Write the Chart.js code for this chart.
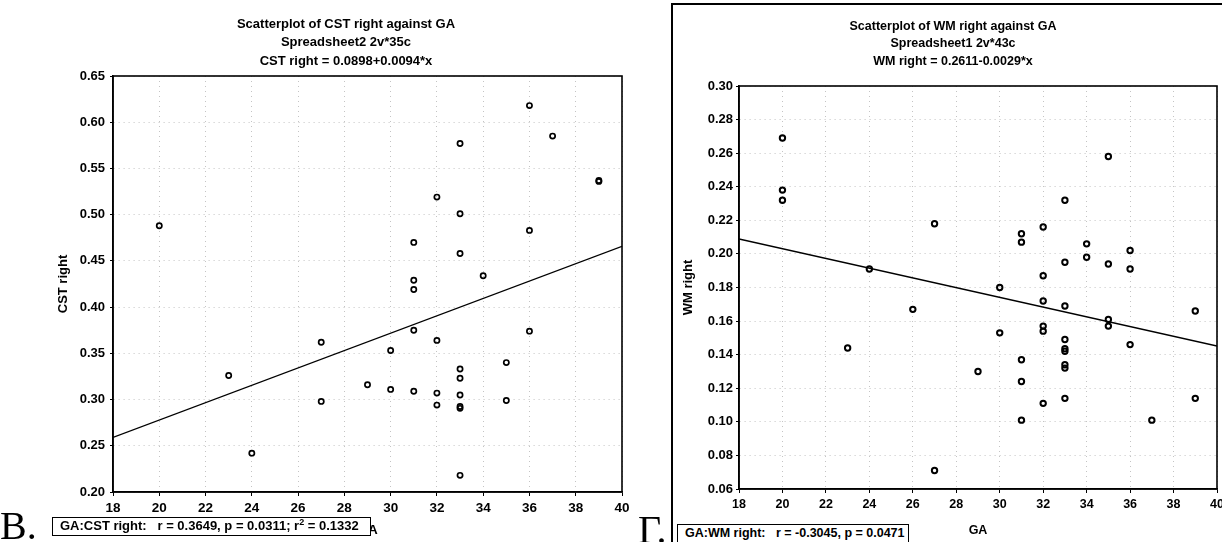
<!DOCTYPE html>
<html><head><meta charset="utf-8">
<script src="https://cdn.jsdelivr.net/npm/chart.js@4.4.1/dist/chart.umd.min.js"></script>
<style>
html,body{margin:0;padding:0;width:1222px;height:542px;overflow:hidden;background:#fff;font-family:"Liberation Sans",Arial,sans-serif;color:#000;}
.abs{position:absolute;}
.t{position:absolute;transform:translate(-50%,-50%);white-space:nowrap;font-weight:bold;line-height:1;}
.box{position:absolute;box-sizing:border-box;border:1.5px solid #000;background:#fff;font-weight:bold;white-space:nowrap;padding-left:7px;}
.big{position:absolute;font-family:"Liberation Serif","Times New Roman",serif;font-size:40px;line-height:1;white-space:nowrap;}
</style></head><body>

<div class="abs" style="left:0;top:0;width:650px;height:542px"><canvas id="cL"></canvas></div>
<div class="abs" style="left:672px;top:0;width:560px;height:542px"><canvas id="cR"></canvas></div>
<div class="abs" style="left:671px;top:3px;width:620px;height:620px;border:2px solid #000;box-sizing:border-box;pointer-events:none"></div>

<div class="t" style="left:346px;top:23px;font-size:13px">Scatterplot of CST right against GA</div>
<div class="t" style="left:346px;top:41px;font-size:13px">Spreadsheet2 2v*35c</div>
<div class="t" style="left:346px;top:60px;font-size:13px">CST right = 0.0898+0.0094*x</div>

<div class="t" style="left:953px;top:26px;font-size:12.5px">Scatterplot of WM right against GA</div>
<div class="t" style="left:953px;top:43px;font-size:12.5px">Spreadsheet1 2v*43c</div>
<div class="t" style="left:953px;top:61px;font-size:12.5px">WM right = 0.2611-0.0029*x</div>

<div class="box" style="left:52px;top:517px;width:319px;height:19px;font-size:13px;line-height:16px">GA:CST right:&nbsp;&nbsp; r = 0.3649, p = 0.0311; r<sup style="font-size:9px;line-height:0">2</sup> = 0.1332</div>
<div class="box" style="left:677px;top:524px;width:232px;height:30px;font-size:12.5px;line-height:17px">GA:WM right:&nbsp;&nbsp; r = -0.3045, p = 0.0471</div>

<div class="big" style="left:0px;top:506px">В.</div>
<div class="big" style="left:638px;top:510px">Г.</div>

<script>
// ---------- data: left chart (CST right vs GA) ----------
const cstGA    = [20, 23, 24, 27, 27, 29, 30, 30, 31, 31, 31, 31, 31, 32, 32, 32, 32, 33, 33, 33, 33, 33, 33, 33, 33, 33, 34, 35, 35, 36, 36, 36, 37, 39, 39];
const cstRight = [0.488, 0.326, 0.242, 0.362, 0.298, 0.316, 0.353, 0.311, 0.470, 0.429, 0.419, 0.375, 0.309, 0.519, 0.364, 0.307, 0.294, 0.577, 0.501, 0.458, 0.333, 0.323, 0.305, 0.2925, 0.2905, 0.218, 0.434, 0.340, 0.299, 0.618, 0.483, 0.374, 0.585, 0.537, 0.536];
const cstFit   = {intercept: 0.0898, slope: 0.0094};
const cstXTicks = [18, 20, 22, 24, 26, 28, 30, 32, 34, 36, 38, 40];
const cstYTicks = ['0.20', '0.25', '0.30', '0.35', '0.40', '0.45', '0.50', '0.55', '0.60', '0.65'];

// ---------- data: right chart (WM right vs GA) ----------
const wmGA    = [20, 20, 20, 23, 24, 26, 27, 27, 29, 30, 30, 31, 31, 31, 31, 31, 32, 32, 32, 32, 32, 32, 33, 33, 33, 33, 33, 33, 33, 33, 33, 34, 34, 35, 35, 35, 35, 36, 36, 36, 37, 39, 39];
const wmRight = [0.269, 0.238, 0.232, 0.144, 0.191, 0.167, 0.218, 0.071, 0.130, 0.180, 0.153, 0.212, 0.207, 0.137, 0.124, 0.101, 0.216, 0.187, 0.172, 0.157, 0.154, 0.111, 0.232, 0.195, 0.169, 0.149, 0.1435, 0.142, 0.134, 0.132, 0.114, 0.206, 0.198, 0.258, 0.194, 0.161, 0.157, 0.202, 0.191, 0.146, 0.101, 0.166, 0.114];
const wmFit   = {intercept: 0.2611, slope: -0.0029};
const wmXTicks = [18, 20, 22, 24, 26, 28, 30, 32, 34, 36, 38, 40];
const wmYTicks = ['0.06', '0.08', '0.10', '0.12', '0.14', '0.16', '0.18', '0.20', '0.22', '0.24', '0.26', '0.28', '0.30'];

const FONT = '"Liberation Sans", Arial, sans-serif';

const plotBox = {
  id: 'plotBox',
  afterDatasetsDraw(chart, args, opts) {
    const {ctx, chartArea: a} = chart;
    ctx.save();
    ctx.strokeStyle = '#000';
    ctx.lineWidth = opts.width || 1.5;
    ctx.strokeRect(a.left, a.top, a.right - a.left, a.bottom - a.top);
    ctx.restore();
  }
};

function makeChart(id, p) {
  const pts = p.xs.map((x, i) => ({x: x, y: p.ys[i]}));
  const xMin = p.xTicks[0], xMax = p.xTicks[p.xTicks.length - 1];
  const yVals = p.yTicks.map(Number);
  const fitLine = [xMin, xMax].map(x => ({x: x, y: p.fit.intercept + p.fit.slope * x}));
  return new Chart(document.getElementById(id), {
    type: 'scatter',
    data: {
      datasets: [
        {data: pts, pointStyle: 'circle', pointRadius: p.r, pointBorderWidth: p.bw,
         pointBorderColor: '#000', pointBackgroundColor: 'rgba(255,255,255,0)', showLine: false},
        {data: fitLine, showLine: true, pointRadius: 0, borderColor: '#000', borderWidth: p.lw, fill: false}
      ]
    },
    options: {
      responsive: true, maintainAspectRatio: false, animation: false,
      devicePixelRatio: 1,
      layout: {padding: p.pad},
      plugins: {legend: {display: false}, tooltip: {enabled: false}, plotBox: {width: 1.6}},
      scales: {
        x: {
          type: 'linear', min: xMin, max: xMax,
          afterBuildTicks: s => { s.ticks = p.xTicks.map(v => ({value: v})); },
          afterFit: s => { s.height = p.xH; },
          ticks: {callback: (v, i) => String(p.xTicks[i]), color: '#000', padding: 4, maxRotation: 0, autoSkip: false,
                  font: {family: FONT, size: p.xFont, weight: 'bold'}},
          grid: {color: '#c4c4c4', lineWidth: 1, tickLength: 4, tickColor: '#000', tickWidth: 1},
          border: {display: true, color: '#000', width: 1.6, dash: [1, 4]},
          title: {display: true, text: 'GA', color: '#000', padding: {top: 0, bottom: 4},
                  font: {family: FONT, size: p.xFont, weight: 'bold'}}
        },
        y: {
          type: 'linear', min: yVals[0], max: yVals[yVals.length - 1],
          afterBuildTicks: s => { s.ticks = yVals.map(v => ({value: v})); },
          afterFit: s => { s.width = p.yW; },
          ticks: {callback: (v, i) => p.yTicks[i], color: '#000', padding: p.yPad, autoSkip: false,
                  font: {family: FONT, size: p.yFont, weight: 'bold'}},
          grid: {color: '#c4c4c4', lineWidth: 1, tickLength: 3, tickColor: '#000', tickWidth: 1},
          border: {display: true, color: '#000', width: 1.6, dash: [1, 4]},
          title: {display: true, text: p.yTitle, color: '#000', padding: {top: 0, bottom: 0},
                  font: {family: FONT, size: p.yFont, weight: 'bold'}}
        }
      }
    },
    plugins: [plotBox]
  });
}

makeChart('cL', {
  xs: cstGA, ys: cstRight, fit: cstFit, xTicks: cstXTicks, yTicks: cstYTicks,
  yTitle: 'CST right', r: 2.6, bw: 1.7, lw: 1.3,
  pad: {left: 56, right: 28, top: 76, bottom: 0}, yW: 57, xH: 50, yPad: 5,
  xFont: 13.5, yFont: 13
});

makeChart('cR', {
  xs: wmGA, ys: wmRight, fit: wmFit, xTicks: wmXTicks, yTicks: wmYTicks,
  yTitle: 'WM right', r: 2.7, bw: 2, lw: 1.5,
  pad: {left: 9, right: 15, top: 86, bottom: 0}, yW: 58, xH: 53, yPad: 3,
  xFont: 12.5, yFont: 13
});
</script>
</body></html>
